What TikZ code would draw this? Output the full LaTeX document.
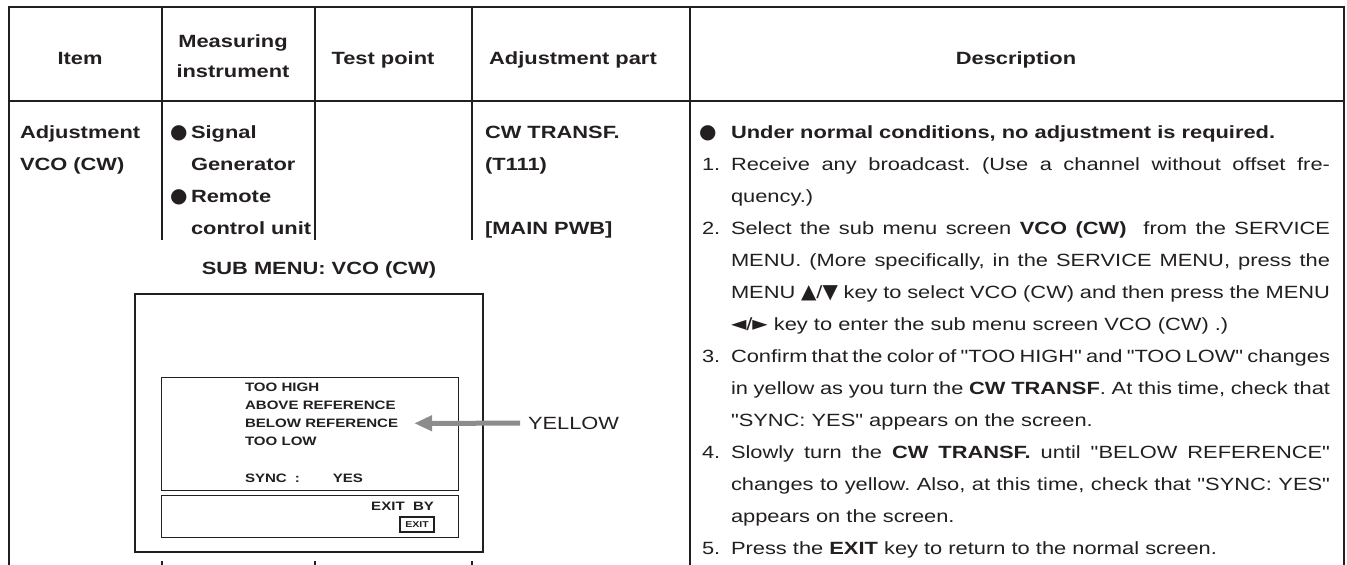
\documentclass[tikz,border=0pt]{standalone}
\usepackage{fontspec}
\setmainfont{Liberation Sans}[FakeStretch=1.235,Ligatures=TeXOff]
\newfontfamily\symfont{DejaVu Sans}
\usetikzlibrary{arrows.meta}
\definecolor{ink}{HTML}{231F20}
\definecolor{pointergray}{HTML}{8C8C8C}
\newcommand{\bodyfont}{\fontsize{17.7}{32}\selectfont}
\newcommand{\osdfont}{\fontsize{12.2}{18}\selectfont\bfseries}
\newcommand{\blt}{{\symfont\fontsize{20}{20}\selectfont ●}}
\newcommand{\tri}[1]{{\symfont\fontsize{20}{20}\selectfont #1}}
\newcommand{\jline}[1]{{\spaceskip=6.1pt plus 8pt minus 3.2pt\makebox[599pt][s]{#1}}}
\tikzset{every node/.style={inner sep=0pt,outer sep=0pt,text=ink}}
\tikzset{rule/.style={line width=1.8pt,draw=ink}}
\tikzset{frame/.style={line width=2.2pt,draw=ink}}
\tikzset{thinbox/.style={line width=0.9pt,draw=ink}}
\tikzset{hd/.style={anchor=base,font=\bodyfont\bfseries}}
\tikzset{cl/.style={anchor=base west,font=\bodyfont\bfseries}}
\tikzset{dl/.style={anchor=base west,font=\bodyfont}}
\tikzset{osd/.style={anchor=base west,font=\osdfont}}
\tikzset{exitkey/.style={draw=ink,line width=1.2pt,minimum width=34pt,minimum height=15pt,font=\fontsize{8.5}{8.5}\selectfont\bfseries}}
\tikzset{pointer/.style={line width=5pt,draw=pointergray,-{Triangle[length=18pt,width=15pt]}}}

\begin{document}
\frenchspacing
\begin{tikzpicture}[x=1pt,y=-1pt]
\useasboundingbox (0,0) rectangle (1347,565);
% table rules
\draw[rule] (9,565) -- (9,7) -- (1344,7) -- (1344,565);
\draw[rule] (9,101) -- (1344,101);
\foreach \x in {162,315,472} {
  \draw[rule] (\x,7) -- (\x,240);
  \draw[rule] (\x,561) -- (\x,565);
}
\draw[rule] (690,7) -- (690,565);
% header
\node[hd] (item) at (80,64) {Item};
\node[hd,anchor=center,align=center,font=\fontsize{17.7}{30}\selectfont\bfseries] (meas) at (233,56.6) {Measuring\\instrument};
\node[hd] (tp) at (383,64) {Test point};
\node[hd] (adj) at (573,64) {Adjustment part};
\node[hd] (descr) at (1016,64) {Description};
% item row
\node[cl] (a1) at (20,138) {Adjustment};
\node[cl] (a2) at (20,170) {VCO (CW)};
\node[cl] (m1) at (170,138) {\makebox[21pt][l]{\blt}Signal};
\node[cl] (m2) at (191,170) {Generator};
\node[cl] (m3) at (170,202) {\makebox[21pt][l]{\blt}Remote};
\node[cl] (m4) at (191,234) {control unit};
\node[cl] (p1) at (485,138) {CW TRANSF.};
\node[cl] (p2) at (485,170) {(T111)};
\node[cl] (p3) at (485,234) {[MAIN PWB]};
% sub menu screen
\node[hd] (sub) at (319,274.5) {SUB MENU: VCO (CW)};
\draw[frame] (135,294) rectangle (483,552);
\draw[thinbox] (161,377) rectangle (458,490);
\draw[thinbox] (161,495) rectangle (458,537);
\node[osd] (high) at (245,391) {TOO HIGH};
\node[osd] (above) at (245,409.5) {ABOVE REFERENCE};
\node[osd] (below) at (245,427.5) {BELOW REFERENCE};
\node[osd] (low) at (245,445.5) {TOO LOW};
\node[osd] (sync) at (245,482.5) {SYNC\hspace{8pt}:\hspace{33pt}YES};
\node[osd,anchor=base east] (exitby) at (434,510.5) {EXIT\ \ BY};
\node[exitkey] (exit) at (417,524.5) {EXIT};
\node[dl] (yel) at (528,429.3) {YELLOW};
\draw[pointer,shorten <=8pt,shorten >=16pt] (yel.west) -- (below.east);
% description
\node[dl] (b0) at (699,138) {\blt};
\node[cl] (d0) at (731,138) {Under normal conditions, no adjustment is required.};
\node[dl] (n1) at (702,170) {1.};
\node[dl] (d1) at (731,170) {\jline{Receive any broadcast. (Use a channel without offset fre-}};
\node[dl] (d2) at (731,202) {quency.)};
\node[dl] (n2) at (702,234) {2.};
\node[dl] (d3) at (731,234) {\jline{Select the sub menu screen \textbf{VCO (CW)}\ \ from the SERVICE}};
\node[dl] (d4) at (731,266) {\jline{MENU. (More specifically, in the SERVICE MENU, press the}};
\node[dl] (d5) at (731,298) {\jline{MENU \tri{▲}/\tri{▼} key to select VCO (CW) and then press the MENU}};
\node[dl] (d6) at (731,330) {\tri{◄}/\tri{►} key to enter the sub menu screen VCO (CW) .)};
\node[dl] (n3) at (702,362) {3.};
\node[dl] (d7) at (731,362) {\jline{Confirm that the color of "TOO HIGH" and "TOO LOW" changes}};
\node[dl] (d8) at (731,394) {\jline{in yellow as you turn the \textbf{CW TRANSF}. At this time, check that}};
\node[dl] (d9) at (731,426) {"SYNC: YES" appears on the screen.};
\node[dl] (n4) at (702,458) {4.};
\node[dl] (d10) at (731,458) {\jline{Slowly turn the \textbf{CW TRANSF.} until "BELOW REFERENCE"}};
\node[dl] (d11) at (731,490) {\jline{changes to yellow. Also, at this time, check that "SYNC: YES"}};
\node[dl] (d12) at (731,522) {appears on the screen.};
\node[dl] (n5) at (702,554) {5.};
\node[dl] (d13) at (731,554) {Press the \textbf{EXIT} key to return to the normal screen.};
\end{tikzpicture}
\end{document}
